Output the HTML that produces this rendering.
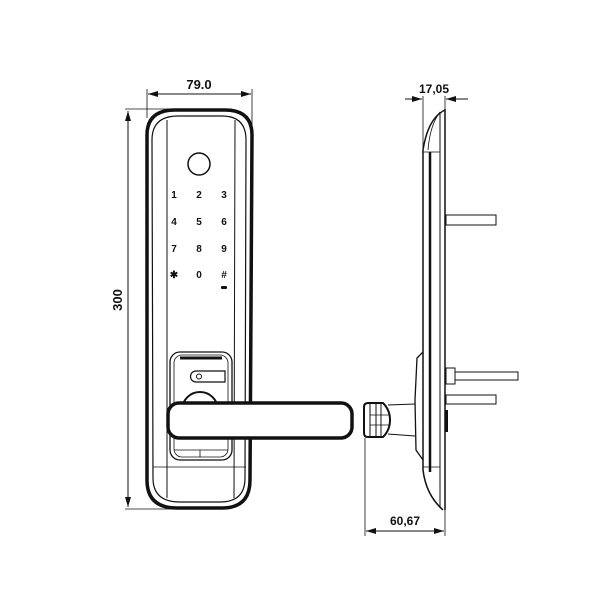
<!DOCTYPE html>
<html><head><style>html,body{margin:0;padding:0;background:#fff}svg{display:block}</style></head>
<body>
<svg width="605" height="605" viewBox="0 0 605 605" xmlns="http://www.w3.org/2000/svg" font-family="Liberation Sans, sans-serif">
<defs><marker id="a" viewBox="0 0 10 6" refX="10" refY="3" markerWidth="10" markerHeight="6" orient="auto-start-reverse"><path d="M0,0L10,3L0,6z" fill="#111"/></marker></defs>
<g stroke="#111" fill="none">
<!-- front dims -->
<line x1="148" y1="94" x2="251" y2="94" stroke-width="1" marker-start="url(#a)" marker-end="url(#a)"/>
<line x1="147" y1="89" x2="147" y2="118" stroke-width="0.8"/>
<line x1="252" y1="89" x2="252" y2="140" stroke-width="0.8"/>
<line x1="128" y1="111" x2="128" y2="507" stroke-width="1" marker-start="url(#a)" marker-end="url(#a)"/>
<line x1="125" y1="109" x2="190" y2="109" stroke-width="0.8"/>
<line x1="125" y1="509" x2="180" y2="509" stroke-width="0.8"/>
<!-- body -->
<path d="M147,135 Q147,110 175,110 L225,110 Q252,110 252,135 L250,480 Q250,508 222,508 L177,508 Q147,508 147,480 Z" stroke-width="3.5"/>
<path d="M152,140 Q152,116 178,116 L222,116 Q246,116 246,140 L245,478 Q245,502 220,502 L180,502 Q153,502 153,478 Z" stroke-width="1.2"/>
<line x1="167" y1="120" x2="167" y2="498" stroke-width="1"/>
<line x1="235" y1="120" x2="234" y2="498" stroke-width="1"/>
<line x1="153" y1="467" x2="246" y2="467" stroke-width="0.8"/>
<circle cx="199" cy="164" r="11" stroke-width="1.5"/>
<!-- fingerprint module -->
<rect x="170" y="352" width="62" height="108" rx="10" stroke-width="1.3"/>
<rect x="174" y="355" width="54" height="102" rx="8" stroke-width="0.8"/>
<line x1="180" y1="358" x2="222" y2="358" stroke-width="3"/>
<path d="M196,371 L225,371 L225,382 L196,382 A5.5,5.5 0 0 1 196,371Z" stroke-width="1.2"/>
<circle cx="199" cy="376.5" r="2.5" stroke-width="1"/>
<circle cx="200" cy="410" r="18" stroke-width="2"/>
<line x1="174" y1="450" x2="228" y2="450" stroke-width="0.8"/>
<line x1="200" y1="450" x2="200" y2="457" stroke-width="0.8"/>
<!-- handle -->
<rect x="168" y="403" width="184" height="35" rx="11" fill="#fff" stroke-width="3.5"/>
<!-- side view -->
<line x1="445" y1="109" x2="445" y2="510" stroke-width="1.5"/>
<line x1="440" y1="112" x2="440" y2="508" stroke-width="1"/>
<line x1="430" y1="152" x2="430" y2="472" stroke-width="2.5"/>
<path d="M445,110 Q428,118 423,150 L423,470 Q426,495 443,510" stroke-width="1.5"/>
<path d="M440,112 Q430,125 428,150" stroke-width="0.8"/>
<line x1="423" y1="152" x2="440" y2="152" stroke-width="0.8"/>
<line x1="423" y1="467" x2="440" y2="467" stroke-width="0.8"/>
<path d="M423,352 L417,358 L415,400 L416,450 L423,460" stroke-width="1.3"/>
<rect x="446" y="215" width="50" height="10" stroke-width="1"/>
<rect x="446" y="368" width="9" height="16" stroke-width="1"/>
<rect x="455" y="372" width="63" height="8" stroke-width="1"/>
<rect x="446" y="395" width="50" height="9" stroke-width="1"/>
<rect x="445" y="410" width="3" height="22" fill="#111" stroke="none"/>
<line x1="388" y1="405" x2="415" y2="404" stroke-width="1"/>
<line x1="388" y1="434" x2="415" y2="436" stroke-width="1"/>
<path d="M368,403 L383,403 Q390,410 390,420 Q390,430 383,437 L368,437 Q364,437 364,433 L364,407 Q364,403 368,403Z" stroke-width="2"/>
<line x1="370" y1="404" x2="370" y2="436" stroke-width="1"/>
<line x1="376" y1="404" x2="376" y2="436" stroke-width="1"/>
<line x1="381" y1="404" x2="381" y2="436" stroke-width="1"/>
<line x1="370" y1="415" x2="389" y2="415" stroke-width="0.8"/>
<line x1="370" y1="425" x2="389" y2="425" stroke-width="0.8"/>
<!-- side dims -->
<line x1="405" y1="99" x2="422" y2="99" stroke-width="1" marker-end="url(#a)"/>
<line x1="468" y1="99" x2="446" y2="99" stroke-width="1" marker-end="url(#a)"/>
<line x1="423" y1="96" x2="423" y2="150" stroke-width="0.8"/>
<line x1="445" y1="96" x2="445" y2="110" stroke-width="0.8"/>
<line x1="366" y1="531" x2="444" y2="531" stroke-width="1" marker-start="url(#a)" marker-end="url(#a)"/>
<line x1="365" y1="438" x2="365" y2="536" stroke-width="0.8"/>
<line x1="445" y1="510" x2="445" y2="536" stroke-width="0.8"/>
</g>
<g fill="#111" font-weight="bold">
<text x="199" y="89" font-size="13" text-anchor="middle">79.0</text>
<text x="434" y="93" font-size="12" text-anchor="middle">17,05</text>
<text x="405" y="525" font-size="12" text-anchor="middle">60,67</text>
<text x="122" y="300" font-size="13" text-anchor="middle" transform="rotate(-90 122 300)">300</text>
<g font-size="10" text-anchor="middle">
<text x="174" y="198">1</text><text x="199" y="198">2</text><text x="224" y="198">3</text>
<text x="174" y="225">4</text><text x="199" y="225">5</text><text x="224" y="225">6</text>
<text x="174" y="252">7</text><text x="199" y="252">8</text><text x="224" y="252">9</text>
<text x="174" y="278">✱</text><text x="199" y="278">0</text><text x="224" y="278">#</text>
</g>
<rect x="221" y="286" width="6" height="3" rx="1"/>
</g>
</svg>
</body></html>
